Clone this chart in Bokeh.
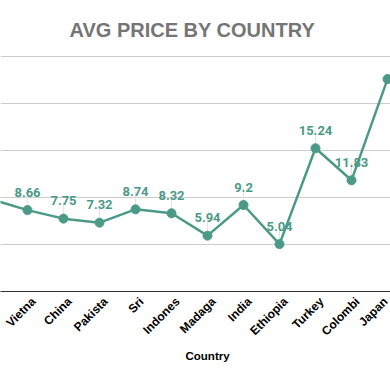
import math
from bokeh.plotting import figure
from bokeh.models import Range1d, FixedTicker, Title, ColumnDataSource
from bokeh.core.properties import value
from bokeh.embed import file_html
from bokeh.resources import INLINE

# ---- data ----
countries = ["Brazil", "Vietna", "China", "Pakista", "Sri", "Indones", "Madaga",
             "India", "Ethiopia", "Turkey", "Colombi", "Japan"]
avg_price = [9.8, 8.66, 7.75, 7.32, 8.74, 8.32, 5.94, 9.2, 5.04, 15.24, 11.83, 22.6]
# labels at the cut edges are not visible in the reference
price_labels = ["", "8.66", "7.75", "7.32", "8.74", "8.32", "5.94", "9.2", "5.04",
                "15.24", "11.83", ""]
y_ticks = [0, 5, 10, 15, 20, 25]

TEAL = "#4b9a88"

idx = list(range(len(countries)))
src = ColumnDataSource(dict(x=idx, y=avg_price, lab=price_labels))
lead = ColumnDataSource(dict(
    x=[i for i, l in zip(idx, price_labels) if l],
    y0=[v + 0.45 for v, l in zip(avg_price, price_labels) if l],
    y1=[v + 1.85 for v, l in zip(avg_price, price_labels) if l],
))

TOP = 44
X_END = 0.25 + 390 / 36.0
p = figure(width=390, height=371, output_backend="svg", toolbar_location=None,
           x_range=Range1d(0.25, X_END), y_range=Range1d(0, (291 - TOP) / 9.4),
           min_border_left=0, min_border_right=0, min_border_top=TOP,
           min_border_bottom=80)
p.outline_line_color = None
p.background_fill_color = "white"
p.border_fill_color = "white"

p.title.text = "AVG PRICE BY COUNTRY"
p.title.align = "left"
p.title.offset = 69
p.title.standoff = 7.4
p.title.text_font = "Liberation Sans"
p.title.text_font_size = "20px"
p.title.text_font_style = "bold"
p.title.text_color = "#757575"

p.yaxis.visible = False
p.ygrid.ticker = FixedTicker(ticks=y_ticks)
p.ygrid.grid_line_color = "#cccccc"
p.ygrid.grid_line_width = 1
p.xgrid.visible = False

# category labels sit slightly right of their points in the reference
label_ticks = [min(i + 0.17, X_END - 0.01) for i in idx]
ax = p.xaxis[0]
ax.ticker = FixedTicker(ticks=label_ticks)
ax.major_label_overrides = {t: c for t, c in zip(label_ticks, countries)}
ax.major_label_orientation = math.pi / 4
ax.major_label_text_font = "Liberation Sans"
ax.major_label_text_font_style = "bold"
ax.major_label_text_font_size = "12px"
ax.major_label_text_color = "black"
ax.major_label_standoff = 2
ax.major_tick_line_color = None
ax.minor_tick_line_color = None
ax.axis_line_color = "#333333"
ax.axis_line_width = 1.2

p.add_layout(Title(text="Country", align="left", offset=185, vertical_align="top",
                   standoff=6, text_font="Liberation Sans", text_font_style="bold",
                   text_font_size="11.5px", text_color="black"), "below")

p.segment(x0="x", x1="x", y0="y0", y1="y1", source=lead, line_color="#e4e4e4", line_width=1)
p.line("x", "y", source=src, line_color=TEAL, line_width=2.5)
p.scatter("x", "y", source=src, size=9, fill_color=TEAL, line_color=TEAL)
p.text("x", "y", text="lab", source=src, text_align="center", text_baseline="alphabetic",
       y_offset=-18, text_font=value("Roboto"), text_font_style="bold",
       text_font_size="13px", text_color=TEAL)

html = file_html(p, INLINE)
html = html.replace("<head>", "<head><style>html,body{margin:0;padding:0;overflow:hidden}</style>", 1)
open("out.html", "w").write(html)
